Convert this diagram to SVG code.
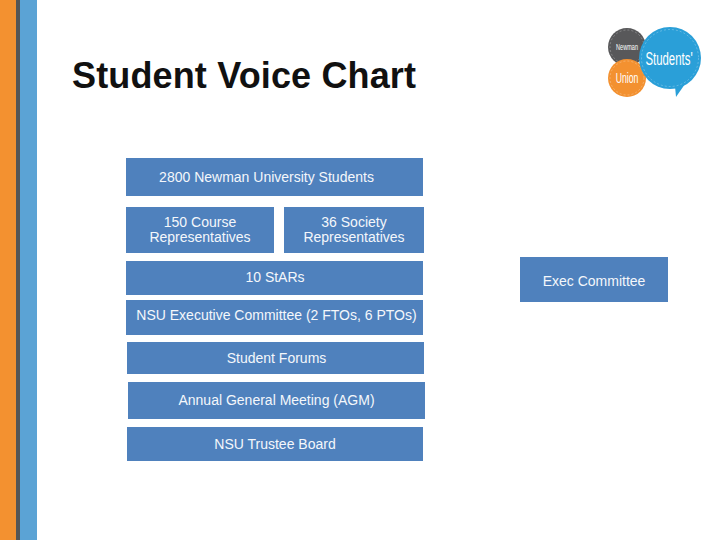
<svg xmlns="http://www.w3.org/2000/svg" width="720" height="540" viewBox="0 0 720 540">
<style>
.b{fill:#4f81bd}
.t{font-family:"Liberation Sans",Arial,sans-serif;font-size:14px;fill:#f4f7fb;text-anchor:middle}
.title{font-family:"Liberation Sans",Arial,sans-serif;font-size:36px;font-weight:bold;fill:#111}
.l{font-family:"Liberation Sans",Arial,sans-serif;fill:#fff;text-anchor:middle}
.d{fill:none;stroke:#fff;stroke-opacity:.45;stroke-width:.6;stroke-dasharray:2 2}
</style>
<rect width="720" height="540" fill="#fff"/>
<g id="sidebar">
<rect x="0" y="0" width="16" height="540" fill="#f39130"/>
<rect x="16" y="0" width="4" height="540" fill="#555"/>
<rect x="20" y="0" width="17" height="540" fill="#5ba3d5"/>
</g>
<text class="title" x="72" y="88" textLength="344">Student Voice Chart</text>
<g id="logo">
<circle cx="627" cy="47" r="19" fill="#58585a"/>
<circle class="d" cx="627" cy="47" r="17"/>
<text class="l" transform="translate(627 50) scale(.62 1)" font-size="9">Newman</text>
<circle cx="627" cy="78" r="19" fill="#f39130"/>
<circle class="d" cx="627" cy="78" r="17"/>
<text class="l" transform="translate(627 83) scale(.62 1)" font-size="14">Union</text>
<path d="M675 86 L676 97 L685 84 Z" fill="#2a9fd8"/>
<circle cx="670" cy="58" r="31" fill="#2a9fd8"/>
<circle class="d" cx="670" cy="58" r="28.500"/>
<text class="l" transform="translate(669 65) scale(.6 1)" font-size="19">Students'</text>
</g>
<g id="connectors"></g>
<g id="n1"><rect class="b" x="126" y="158" width="297" height="38"/><text class="t" x="266.500" y="182">2800 Newman University Students</text></g>
<g id="n2"><rect class="b" x="126" y="207" width="148" height="46"/><text class="t" x="200" y="227">150 Course</text><text class="t" x="200" y="242">Representatives</text></g>
<g id="n3"><rect class="b" x="284" y="207" width="140" height="46"/><text class="t" x="354" y="227">36 Society</text><text class="t" x="354" y="242">Representatives</text></g>
<g id="n4"><rect class="b" x="126" y="261" width="297" height="34"/><text class="t" x="275" y="282">10 StARs</text></g>
<g id="n5"><rect class="b" x="126" y="300" width="297" height="35"/><text class="t" x="276.500" y="320">NSU Executive Committee (2 FTOs, 6 PTOs)</text></g>
<g id="n6"><rect class="b" x="127" y="342" width="297" height="32"/><text class="t" x="276.500" y="363">Student Forums</text></g>
<g id="n7"><rect class="b" x="128" y="382" width="297" height="37"/><text class="t" x="276.500" y="405">Annual General Meeting (AGM)</text></g>
<g id="n8"><rect class="b" x="127" y="427" width="296" height="34"/><text class="t" x="275" y="449">NSU Trustee Board</text></g>
<g id="n9"><rect class="b" x="520" y="257" width="148" height="45"/><text class="t" x="594" y="286">Exec Committee</text></g>
</svg>
